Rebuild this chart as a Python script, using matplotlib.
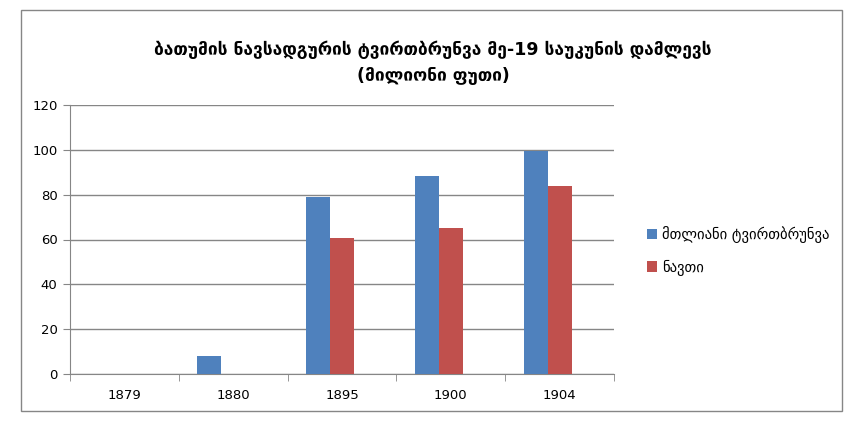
import numpy as np
import matplotlib.pyplot as plt
from matplotlib.patches import Rectangle

plt.rcParams['font.family'] = ['DejaVu Sans']

# data
years = ['1879', '1880', '1895', '1900', '1904']
total = [0, 8, 79, 88.3, 99.7]      # მთლიანი ტვირთბრუნვა
oil = [0, 0, 60.7, 65.1, 83.9]      # ნავთი
series_names = ['მთლიანი ტვირთბრუნვა', 'ნავთი']
title = 'ბათუმის ნავსადგურის ტვირთბრუნვა მე-19 საუკუნის დამლევს\n(მილიონი ფუთი)'

blue = '#4f81bd'
red = '#c0504d'
grey = '#868686'

fig = plt.figure(figsize=(8.66, 4.33), dpi=100)

# outer chart border
fig.patches.append(Rectangle((21/866, 1 - 411/433), 821/866, 401/433,
                             transform=fig.transFigure, fill=False,
                             edgecolor=grey, linewidth=1))

ax = fig.add_axes([70/866, 1 - 374/433, 544/866, 269/433])

x = np.arange(len(years))
w = 0.22
# excel cluster with 3 slots (third one empty)
ax.bar(x - w, total, width=w, color=blue, label=series_names[0], zorder=3)
ax.bar(x, oil, width=w, color=red, label=series_names[1], zorder=3)

ax.set_xlim(-0.5, len(years) - 0.5)
ax.set_ylim(0, 120)
ax.set_yticks(range(0, 121, 20))
ax.set_xticks(x)
ax.set_xticklabels(years)
ax.set_xticks(np.arange(-0.5, len(years), 1), minor=True)
ax.tick_params(axis='x', which='major', length=0, pad=11, labelsize=9.5)
ax.tick_params(axis='x', which='minor', length=5, color=grey, direction='out')
ax.tick_params(axis='y', length=5, color=grey, labelsize=9.5, pad=4)

ax.grid(axis='y', color=grey, linewidth=1, zorder=0)
for s in ['top', 'right']:
    ax.spines[s].set_visible(False)
for s in ['left', 'bottom']:
    ax.spines[s].set_color(grey)

fig.text(0.5, 1 - 63/433, title, ha='center', va='center',
         fontsize=12.5, fontweight='bold', linespacing=1.6)

ax.legend(loc='center left', bbox_to_anchor=(634/866, 1 - 251/433),
          bbox_transform=fig.transFigure, frameon=False, fontsize=10.5,
          handlelength=0.7, handleheight=0.7, handletextpad=0.35,
          labelspacing=1.1)

fig.savefig('out.png', dpi=100)
